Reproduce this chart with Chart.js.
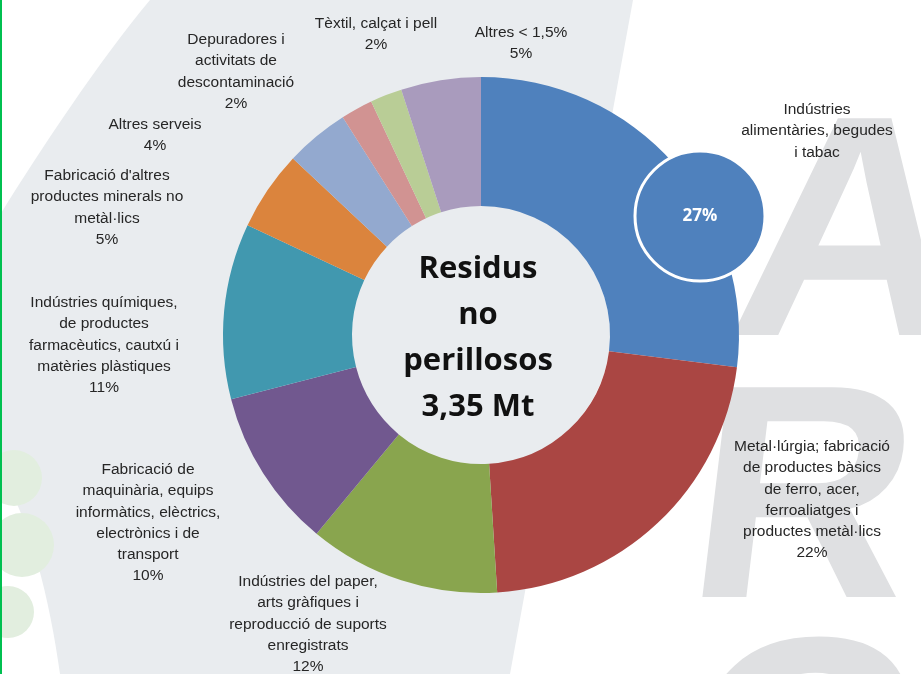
<!DOCTYPE html>
<html>
<head>
<meta charset="utf-8">
<script src="https://cdn.jsdelivr.net/npm/chart.js@4/dist/chart.umd.min.js"></script>
<style>
html,body{margin:0;padding:0;background:#ffffff;}
#wrap{width:921px;height:674px;position:relative;}
</style>
</head>
<body>
<div id="wrap"><canvas id="c" width="921" height="674"></canvas></div>
<script>
// ---- data ----
const categories = [
  "Indústries alimentàries, begudes i tabac",
  "Metal·lúrgia; fabricació de productes bàsics de ferro, acer, ferroaliatges i productes metàl·lics",
  "Indústries del paper, arts gràfiques i reproducció de suports enregistrats",
  "Fabricació de maquinària, equips informàtics, elèctrics, electrònics i de transport",
  "Indústries químiques, de productes farmacèutics, cautxú i matèries plàstiques",
  "Fabricació d'altres productes minerals no metàl·lics",
  "Altres serveis",
  "Depuradores i activitats de descontaminació",
  "Tèxtil, calçat i pell",
  "Altres < 1,5%"
];
const shares = [27, 22, 12, 10, 11, 5, 4, 2, 2, 5];
const labelLines = [
  ["Indústries", "alimentàries, begudes", "i tabac"],
  ["Metal·lúrgia; fabricació", "de productes bàsics", "de ferro, acer,", "ferroaliatges i", "productes metàl·lics", "22%"],
  ["Indústries del paper,", "arts gràfiques i", "reproducció de suports", "enregistrats", "12%"],
  ["Fabricació de", "maquinària, equips", "informàtics, elèctrics,", "electrònics i de", "transport", "10%"],
  ["Indústries químiques,", "de productes", "farmacèutics, cautxú i", "matèries plàstiques", "11%"],
  ["Fabricació d'altres", "productes minerals no", "metàl·lics", "5%"],
  ["Altres serveis", "4%"],
  ["Depuradores i", "activitats de", "descontaminació", "2%"],
  ["Tèxtil, calçat i pell", "2%"],
  ["Altres < 1,5%", "5%"]
];
const centerTitle = ["Residus", "no", "perillosos", "3,35 Mt"];
const bubbleText = "27%";

// ---- styling / layout (not data) ----
const colors = ["#4f81bd","#aa4643","#89a54e","#71588f","#4198af","#db843d","#93a9cf","#d19392","#b9cd96","#a99bbd"];
// label anchor: [center x, y of first line]
const labelAnchor = [
  [817,110],[812,447],[308,582],[148,470],[104,303],[107,176],[155,125],[236,40],[376,24],[521,33]
];
const lineH = 21.2;

function skewLetter(ctx, ch, x, y, size, skew){
  ctx.save();
  ctx.translate(x, y);
  ctx.transform(1, 0, -skew, 1, 0, 0);
  ctx.font = 'bold ' + size + 'px "Liberation Sans"';
  ctx.textAlign = 'left';
  ctx.textBaseline = 'alphabetic';
  ctx.fillText(ch, 0, 0);
  ctx.restore();
}

const decor = {
  id: 'decor',
  beforeDraw(chart){
    const ctx = chart.ctx;
    ctx.save();
    ctx.fillStyle = '#ffffff';
    ctx.fillRect(0,0,chart.width,chart.height);
    // soft grey background band
    ctx.fillStyle = '#e9ecef';
    ctx.beginPath();
    ctx.moveTo(0,215);
    ctx.bezierCurveTo(40,150,100,60,150,0);
    ctx.lineTo(633,0);
    ctx.lineTo(510,674);
    ctx.lineTo(60,674);
    ctx.bezierCurveTo(50,600,30,520,0,470);
    ctx.closePath();
    ctx.fill();
    // faint green blobs lower left
    ctx.fillStyle = '#e2eedf';
    [[14,478,28],[22,545,32],[8,612,26]].forEach(([x,y,r])=>{
      ctx.beginPath(); ctx.arc(x,y,r,0,Math.PI*2); ctx.fill();
    });
    // watermark letters
    ctx.fillStyle = '#dfe0e2';
    skewLetter(ctx, 'A', 725, 335, 315, 0.12);
    skewLetter(ctx, 'R', 682, 597, 305, 0.12);
    skewLetter(ctx, 'C', 670, 860, 320, 0.12);
    // green left border
    ctx.fillStyle = '#00c050';
    ctx.fillRect(0,0,2,chart.height);
    ctx.restore();
  },
  beforeDatasetsDraw(chart){
    const meta = chart.getDatasetMeta(0);
    const arc = meta.data[0];
    const ctx = chart.ctx;
    ctx.save();
    ctx.fillStyle = '#e9ecef';
    ctx.beginPath();
    ctx.arc(arc.x, arc.y, arc.innerRadius, 0, Math.PI*2);
    ctx.fill();
    ctx.restore();
  },
  afterDatasetsDraw(chart){
    const ctx = chart.ctx;
    const meta = chart.getDatasetMeta(0);
    const arc = meta.data[0];
    ctx.save();
    // center title
    ctx.fillStyle = '#111111';
    ctx.font = 'bold 31px "Open Sans"';
    ctx.textAlign = 'center';
    ctx.textBaseline = 'middle';
    centerTitle.forEach((t,i)=>ctx.fillText(t, arc.x-3, arc.y-66+i*46));
    // bubble for first slice
    const bx = arc.x + 219, by = arc.y - 119;
    ctx.beginPath();
    ctx.arc(bx, by, 65, 0, Math.PI*2);
    ctx.fillStyle = colors[0];
    ctx.fill();
    ctx.lineWidth = 3;
    ctx.strokeStyle = '#ffffff';
    ctx.stroke();
    ctx.fillStyle = '#ffffff';
    ctx.font = 'bold 17px "Open Sans"';
    ctx.fillText(bubbleText, bx, by);
    // outside labels
    ctx.fillStyle = '#262626';
    ctx.font = '15.5px "Liberation Sans"';
    labelLines.forEach((lines,i)=>{
      const [x,y] = labelAnchor[i];
      lines.forEach((t,j)=>ctx.fillText(t, x, y + j*lineH));
    });
    ctx.restore();
  }
};

new Chart(document.getElementById('c'), {
  type: 'doughnut',
  data: {
    labels: categories,
    datasets: [{
      data: shares,
      backgroundColor: colors,
      borderWidth: 0,
      hoverOffset: 0
    }]
  },
  options: {
    responsive: false,
    animation: false,
    cutout: '50%',
    layout: { padding: { left: 223, right: 182, top: 77, bottom: 81 } },
    plugins: {
      legend: { display: false },
      tooltip: { enabled: false },
      title: { display: false }
    }
  },
  plugins: [decor]
});
</script>
</body>
</html>
